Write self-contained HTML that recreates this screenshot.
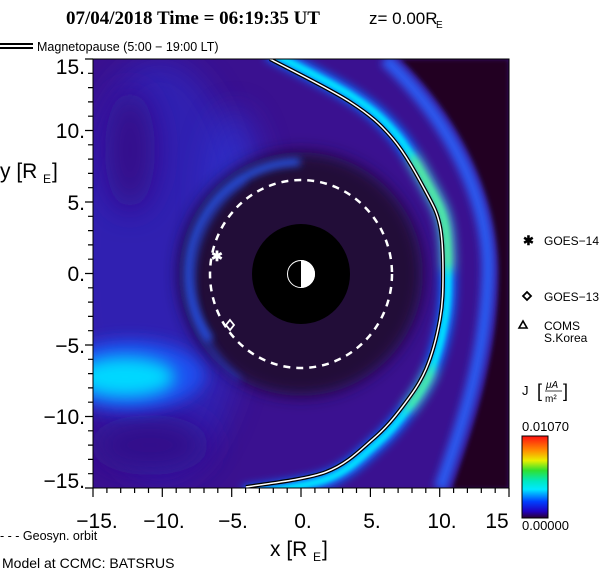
<!DOCTYPE html>
<html><head><meta charset="utf-8"><style>
html,body{margin:0;padding:0;background:#fff;width:616px;height:574px;overflow:hidden}
svg{display:block}
text{font-family:"Liberation Sans",sans-serif;fill:#000}
</style></head><body>
<svg width="616" height="574" viewBox="0 0 616 574" xmlns="http://www.w3.org/2000/svg">
<defs>
<clipPath id="pc"><rect x="93" y="59" width="416" height="429"/></clipPath>
<clipPath id="g1"><rect x="400" y="160" width="80" height="110"/></clipPath>
<clipPath id="g2"><rect x="390" y="365" width="60" height="40"/></clipPath>
<filter id="b8" x="-50%" y="-50%" width="200%" height="200%"><feGaussianBlur stdDeviation="8"/></filter>
<filter id="b4" x="-50%" y="-50%" width="200%" height="200%"><feGaussianBlur stdDeviation="4"/></filter>
<filter id="b2" x="-50%" y="-50%" width="200%" height="200%"><feGaussianBlur stdDeviation="2"/></filter>
<filter id="b6" x="-50%" y="-50%" width="200%" height="200%"><feGaussianBlur stdDeviation="6"/></filter>
<filter id="b15" x="-50%" y="-50%" width="200%" height="200%"><feGaussianBlur stdDeviation="15"/></filter>
<linearGradient id="cb" x1="0" y1="1" x2="0" y2="0">
<stop offset="0" stop-color="#2a0030"/><stop offset="0.08" stop-color="#2000c0"/><stop offset="0.2" stop-color="#0040ff"/>
<stop offset="0.35" stop-color="#00e8ff"/><stop offset="0.45" stop-color="#00e8c0"/><stop offset="0.58" stop-color="#30e030"/>
<stop offset="0.7" stop-color="#e8f000"/><stop offset="0.82" stop-color="#ff9000"/><stop offset="1" stop-color="#ff1010"/>
</linearGradient>
<path id="mp" d="M270,59 C283.3,66.2 329.5,88.7 350,102 C370.5,115.3 380.3,124 393,139 C405.7,154 418.2,177.5 426,192 C433.8,206.5 437.2,212.3 440,226 C442.8,239.7 443,258.5 443,274 C443,289.5 442.8,303.2 440,319 C437.2,334.8 432.2,354.5 426,369 C419.8,383.5 411.8,394.3 403,406 C394.2,417.7 385.8,428 373,439 C360.2,450 347.2,464 326,472 C304.8,480 259.3,484.5 246,487"/>
</defs>

<text x="66" y="24" style="font-family:'Liberation Serif',serif;font-weight:bold;font-size:19px">07/04/2018 Time = 06:19:35 UT</text>
<text x="369" y="24" font-size="17">z= 0.00R</text><text x="436" y="28" font-size="10">E</text>

<line x1="0" y1="44" x2="33" y2="44" stroke="#000" stroke-width="2"/>
<line x1="0" y1="48" x2="33" y2="48" stroke="#000" stroke-width="2"/>
<text x="37" y="51" font-size="12.5">Magnetopause (5:00 − 19:00 LT)</text>

<g clip-path="url(#pc)">
<rect x="93" y="59" width="416" height="429" fill="#3a1190"/>
<ellipse cx="160" cy="270" rx="90" ry="210" fill="#2a2ac8" opacity="0.6" filter="url(#b15)"/>
<ellipse cx="235" cy="200" rx="30" ry="90" fill="#2a3ae0" opacity="0.5" filter="url(#b15)"/>
<ellipse cx="130" cy="150" rx="25" ry="60" fill="#35108a" filter="url(#b15)"/>
<ellipse cx="150" cy="445" rx="60" ry="30" fill="#32108a" filter="url(#b15)"/>
<ellipse cx="130" cy="375" rx="75" ry="35" fill="#1e50f0" filter="url(#b8)"/>
<ellipse cx="125" cy="377" rx="50" ry="20" fill="#00d8ff" filter="url(#b8)"/>
<circle cx="301" cy="274" r="122" fill="#240838" filter="url(#b8)"/>
<path d="M300,162 A112,112 0 0,0 210,340" fill="none" stroke="#2858f0" stroke-width="7" filter="url(#b4)"/>
<path d="M245,180 A125,125 0 0,0 240,380" fill="none" stroke="#2848e0" stroke-width="5" opacity="0.6" filter="url(#b4)"/>
<path d="M400,59 L509,59 L509,489 L452,489 C472,430 498,360 498,274 C498,200 462,120 400,59Z" fill="#220020" filter="url(#b2)"/>
<path d="M385,59 C450,120 490,200 488,274 C486,360 460,430 440,489" fill="none" stroke="#2a5af0" stroke-width="13" filter="url(#b4)"/>
<g transform="translate(301,274) scale(1.035) translate(-301,-274)">
<use href="#mp" fill="none" stroke="#1070ff" stroke-width="16" filter="url(#b4)"/>
<use href="#mp" fill="none" stroke="#00e0ff" stroke-width="7" filter="url(#b2)"/>
<g filter="url(#b6)"><g clip-path="url(#g1)"><use href="#mp" fill="none" stroke="#c0f020" stroke-width="6"/></g></g>
<g filter="url(#b6)"><g clip-path="url(#g2)"><use href="#mp" fill="none" stroke="#a0f040" stroke-width="6"/></g></g>
</g>
<use href="#mp" fill="none" stroke="#000" stroke-width="4"/>
<use href="#mp" fill="none" stroke="#fff" stroke-width="1.5"/>
<ellipse cx="301" cy="274" rx="49" ry="50" fill="#000"/>
<ellipse cx="301" cy="274" rx="91" ry="94" fill="none" stroke="#fff" stroke-width="2.5" stroke-dasharray="7,6"/>
<path d="M301,260 A14,14 0 0,1 301,288 Z" fill="#fff"/>
<circle cx="301" cy="274" r="13.5" fill="none" stroke="#fff" stroke-width="1"/>
<text x="217" y="261" font-size="14" text-anchor="middle" style="fill:#fff;font-weight:bold">✱</text>
<path d="M230,320 L234,325 L230,330 L226,325Z" fill="none" stroke="#fff" stroke-width="1.8"/>
</g>
<rect x="93" y="59" width="416" height="429" fill="none" stroke="#000" stroke-width="1"/>

<g stroke="#000" stroke-width="1.2">
<path d="M93,488 v9 M106.9,488 v5 M120.7,488 v5 M134.6,488 v5 M148.5,488 v5 M162.3,488 v9 M176.2,488 v5 M190.1,488 v5 M204,488 v5 M217.8,488 v5 M231.7,488 v9 M245.6,488 v5 M259.4,488 v5 M273.3,488 v5 M287.2,488 v5 M301,488 v9 M314.9,488 v5 M328.8,488 v5 M342.6,488 v5 M356.5,488 v5 M370.4,488 v9 M384.2,488 v5 M398.1,488 v5 M412,488 v5 M425.8,488 v5 M439.7,488 v9 M453.6,488 v5 M467.4,488 v5 M481.3,488 v5 M495.2,488 v5 M509,488 v9"/>
<path d="M93,59 h-8 M93,73.3 h-5 M93,87.6 h-5 M93,101.9 h-5 M93,116.2 h-5 M93,130.5 h-8 M93,144.8 h-5 M93,159.1 h-5 M93,173.4 h-5 M93,187.7 h-5 M93,202 h-8 M93,216.3 h-5 M93,230.6 h-5 M93,244.9 h-5 M93,259.2 h-5 M93,273.5 h-8 M93,287.8 h-5 M93,302.1 h-5 M93,316.4 h-5 M93,330.7 h-5 M93,345 h-8 M93,359.3 h-5 M93,373.6 h-5 M93,387.9 h-5 M93,402.2 h-5 M93,416.5 h-8 M93,430.8 h-5 M93,445.1 h-5 M93,459.4 h-5 M93,473.7 h-5 M93,488 h-8"/>
</g>
<g font-size="21" text-anchor="end">
<text x="85" y="74">15.</text><text x="85" y="138">10.</text><text x="85" y="210">5.</text>
<text x="85" y="281">0.</text><text x="85" y="353">−5.</text><text x="85" y="424">−10.</text><text x="85" y="488">−15.</text>
</g>
<g font-size="21" text-anchor="middle">
<text x="97" y="528">−15.</text><text x="164" y="528">−10.</text><text x="233" y="528">−5.</text>
<text x="303" y="528">0.</text><text x="372" y="528">5.</text><text x="442" y="528">10.</text><text x="497" y="528">15</text>
</g>
<text x="0" y="178" font-size="21">y [R</text><text x="43" y="183" font-size="12">E</text><text x="52" y="178" font-size="21">]</text>
<text x="270" y="556" font-size="21">x [R</text><text x="313" y="561" font-size="12">E</text><text x="322" y="556" font-size="21">]</text>
<text x="0" y="540" font-size="12.5">- - -  Geosyn. orbit</text>
<text x="2" y="568" font-size="14">Model at CCMC: BATSRUS</text>

<text x="523" y="245" font-size="13" style="font-weight:bold">✱</text>
<text x="544" y="245" font-size="12">GOES−14</text>
<path d="M523,296 L527,292 L531,296 L527,300Z" fill="none" stroke="#000" stroke-width="1.8"/>
<text x="544" y="301" font-size="12">GOES−13</text>
<path d="M519,328 L523,321 L527,328Z" fill="none" stroke="#000" stroke-width="1.6"/>
<text x="544" y="330" font-size="12">COMS</text><text x="544" y="342" font-size="12">S.Korea</text>

<text x="522" y="395" font-size="13">J</text>
<text x="537" y="397" font-size="18">[</text>
<text x="546" y="388" font-size="10" font-style="italic">μA</text>
<line x1="545" y1="391" x2="562" y2="391" stroke="#000" stroke-width="0.8"/>
<text x="545" y="402" font-size="10">m²</text>
<text x="563" y="397" font-size="18">]</text>
<text x="522" y="431" font-size="13">0.01070</text>
<rect x="522" y="436" width="26" height="82" fill="url(#cb)" stroke="#000" stroke-width="1"/>
<text x="522" y="530" font-size="13">0.00000</text>
</svg>
</body></html>
